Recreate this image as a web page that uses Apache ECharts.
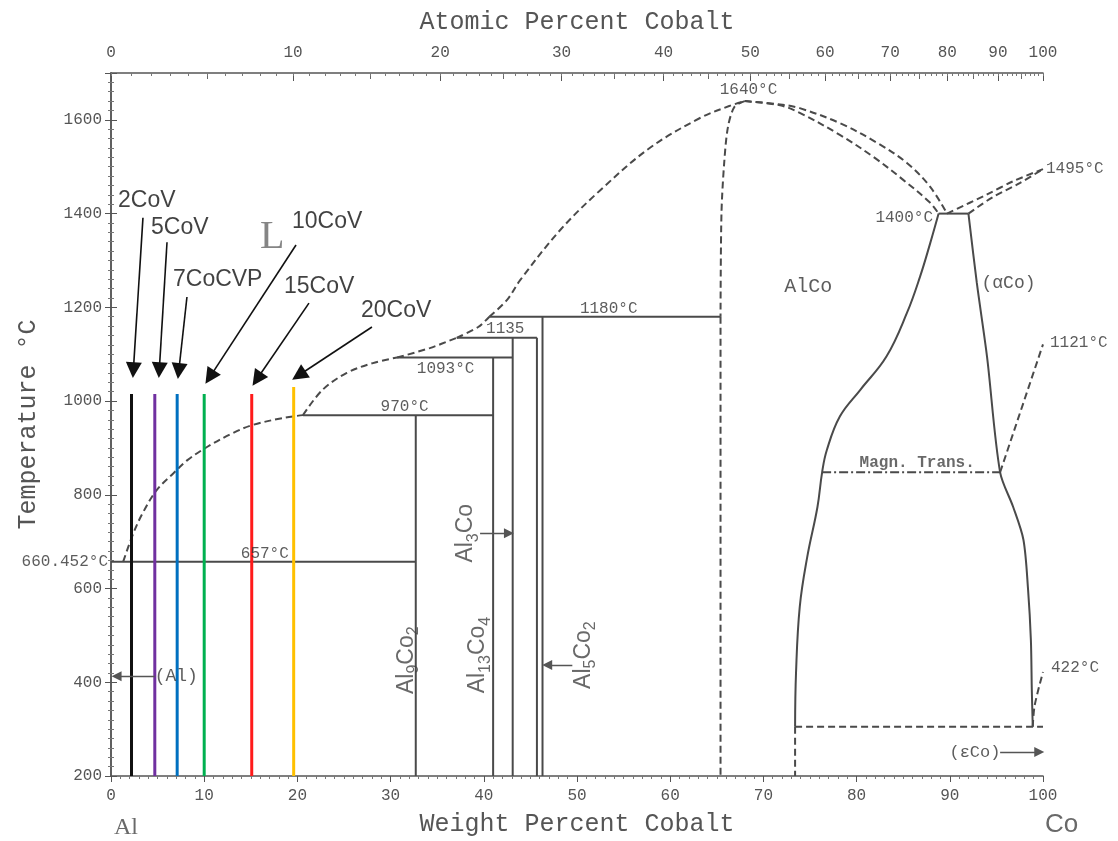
<!DOCTYPE html>
<html>
<head>
<meta charset="utf-8">
<title>Al-Co phase diagram</title>
<script src="https://cdn.jsdelivr.net/npm/echarts@6/dist/echarts.min.js"></script>
<style>
  html, body { margin: 0; padding: 0; background: #ffffff; }
  #chart { width: 1118px; height: 841px; }
</style>
</head>
<body>
<div id="chart"></div>
<script>
// ---------- axis values ----------
const tempTicks = [200, 400, 600, 800, 1000, 1200, 1400, 1600];
const atomicMajor = [0, 10, 20, 30, 40, 50, 60, 70, 80, 90, 100];
const atomicMid = [5, 15, 25, 35, 45, 55, 65, 75, 85, 95];
const atomicMinor = Array.from({ length: 101 }, (_, i) => i);

// ---------- phase boundaries: [wt% Co, °C] ----------
const liqA = [[1.3, 657], [2.4, 718], [3.4, 761], [4.9, 810], [6.7, 846], [8.2, 874], [10.3, 902], [13.1, 932], [15.2, 949], [18.5, 964], [20.6, 970]];
const liqB = [[20.6, 970], [22.7, 1024], [25.3, 1060], [28.1, 1081], [30.7, 1093]];
const liqC = [[30.7, 1093], [34.2, 1113], [37.1, 1135]];
const liqD = [[37.1, 1135], [39.4, 1158], [40.6, 1180]];
const liqE = [[40.6, 1180], [42.5, 1216], [43.9, 1258], [48.2, 1365], [52.5, 1450], [57.8, 1540], [63.2, 1604], [66.4, 1630], [68.0, 1640]];
const liqF = [[68.0, 1640], [71.8, 1633], [73.9, 1625], [78.2, 1593], [82.2, 1551], [85.4, 1508], [87.9, 1457], [89.7, 1400]];
const solAlCo = [[68.0, 1640], [71.8, 1631], [73.9, 1615], [78.2, 1568], [81.8, 1521], [85.0, 1472], [87.9, 1423], [88.8, 1400]];
const liqCo = [[89.7, 1400], [94.0, 1441], [96.8, 1469], [100, 1495]];
const solCo = [[92.0, 1400], [94.6, 1435], [97.5, 1465], [100, 1495]];
const alcoAlTop = [[68.0, 1640], [66.9, 1628], [66.2, 1585], [65.8, 1510], [65.5, 1400], [65.4, 1180]];
const alcoAlLow = [[65.4, 1180], [65.4, 200]];
const alcoCo = [[88.8, 1400], [87.9, 1337], [86.8, 1265], [85.4, 1188], [83.2, 1095], [80.4, 1024], [78.2, 967], [76.8, 895], [76.3, 848], [75.8, 774], [74.7, 667], [73.9, 561], [73.5, 420], [73.4, 305]];
const alphaCo = [[92.0, 1400], [92.9, 1252], [94.0, 1094], [95.4, 848], [96.8, 774], [97.9, 704], [98.4, 597], [98.7, 490], [98.8, 383], [98.9, 305]];
const magnTrans = [[76.3, 848], [95.4, 848]];
const curieCo = [[95.4, 848], [100, 1121]];
const lowEdge = [[73.4, 305], [100, 305]];
const lowLeft = [[73.4, 305], [73.4, 200]];
const epsCo = [[98.9, 305], [99.1, 350], [100, 422]];

const iso657 = [[0, 657], [32.7, 657]];
const iso970 = [[20.6, 970], [41.0, 970]];
const iso1093 = [[30.7, 1093], [43.1, 1093]];
const iso1135 = [[37.1, 1135], [45.7, 1135]];
const iso1180 = [[40.6, 1180], [65.4, 1180]];
const iso1400 = [[88.8, 1400], [92.0, 1400]];

const al9co2 = [[32.7, 970], [32.7, 200]];
const al13co4 = [[41.0, 1093], [41.0, 200]];
const al3co = [[43.1, 1135], [43.1, 200]];
const al5co2a = [[45.7, 1135], [45.7, 200]];
const al5co2b = [[46.3, 1180], [46.3, 200]];

// ---------- alloy compositions ----------
const sampleNames = ['2CoV', '5CoV', '7CoCVP', '10CoV', '15CoV', '20CoV'];
const sampleWt = [2.2, 4.7, 7.1, 10.0, 15.1, 19.6];
const sampleTop = [1015, 1015, 1015, 1015, 1015, 1030];
const sampleColors = ['#111111', '#7030a0', '#0070c0', '#00b050', '#ff1a1a', '#ffc000'];

// ---------- helpers ----------
const INK = '#4a4a4a';
const MONO = "'Liberation Mono','Courier New',monospace";
const SANS = "'Liberation Sans',Arial,sans-serif";
const SERIF = "'Liberation Serif','Times New Roman',serif";
const M_AL = 26.9815, M_CO = 58.9332;
const atToWt = a => a * M_CO / (a * M_CO + (100 - a) * M_AL) * 100;
const wtToAt = w => { const c = w / M_CO, a = (100 - w) / M_AL; return c / (c + a) * 100; };

const DASH = [7, 4];
const DASHDOT = [9, 3, 2, 3];

function boundary(data, dash, smooth) {
  return {
    type: 'line', data, symbol: 'none', showSymbol: false, silent: true,
    smooth: smooth || false, animation: false, z: 3,
    lineStyle: { color: INK, width: 2, type: dash || 'solid' }
  };
}

function arrows(list, color, width, size) {
  return {
    type: 'lines', coordinateSystem: 'cartesian2d', silent: true, animation: false, z: 6,
    symbol: ['none', 'triangle'], symbolSize: size,
    lineStyle: { color, width, opacity: 1, curveness: 0 },
    data: list.map(c => ({ coords: c }))
  };
}

function txt(x, y, text, opt) {
  return { value: [x, y], label: Object.assign({ show: true, formatter: text }, opt) };
}

const inside = { position: 'inside' };
const toRight = { position: 'right', distance: 0 };
const toLeft = { position: 'left', distance: 0 };
const temp = { fontFamily: MONO, fontSize: 16, color: '#333' };

// compound names: letters and lowered digits
const subRich = {
  a: { fontFamily: SANS, fontSize: 23, lineHeight: 23, padding: [0, 0, 4, 0], color: '#444' },
  s: { fontFamily: SANS, fontSize: 16, lineHeight: 16, padding: [11, 0, 0, 0], color: '#444' }
};
const vert = Object.assign({ rotate: 90, rich: subRich }, inside);

const labelItems = [
  txt(17.3, 1348, 'L', Object.assign({ fontFamily: SERIF, fontSize: 40, color: '#666' }, inside)),
  txt(74.8, 1243, 'AlCo', Object.assign({ fontFamily: MONO, fontSize: 20, color: '#333' }, inside)),
  txt(96.3, 1252, '(αCo)', Object.assign({ fontFamily: MONO, fontSize: 18, color: '#333' }, inside)),
  txt(86.5, 868, 'Magn. Trans.', Object.assign({ fontFamily: MONO, fontSize: 16, fontWeight: 'bold', color: '#444' }, inside)),
  txt(68.4, 1664, '1640°C', Object.assign({}, temp, inside)),
  txt(88.2, 1391, '1400°C', Object.assign({}, temp, toLeft)),
  txt(100, 1495, '1495°C', Object.assign({}, temp, { position: 'right', distance: 3 })),
  txt(100, 1124, '1121°C', Object.assign({}, temp, { position: 'right', distance: 7 })),
  txt(100, 432, '422°C', Object.assign({}, temp, { position: 'right', distance: 8 })),
  txt(53.4, 1198, '1180°C', Object.assign({}, temp, inside)),
  txt(42.3, 1154, '1135', Object.assign({}, temp, inside)),
  txt(35.9, 1068, '1093°C', Object.assign({}, temp, inside)),
  txt(31.5, 987, '970°C', Object.assign({}, temp, inside)),
  txt(16.5, 674, '657°C', Object.assign({}, temp, inside)),
  txt(0, 657, '660.452°C', Object.assign({}, temp, { position: 'left', distance: 3 })),
  txt(7.0, 413, '(Al)', Object.assign({ fontFamily: MONO, fontSize: 18, color: '#333' }, inside)),
  txt(92.7, 250, '(εCo)', Object.assign({ fontFamily: MONO, fontSize: 17, color: '#333' }, inside)),
  txt(31.9, 447, '{a|Al}{s|9}{a|Co}{s|2}', vert),
  txt(39.6, 458, '{a|Al}{s|13}{a|Co}{s|4}', vert),
  txt(38.3, 718, '{a|Al}{s|3}{a|Co}', vert),
  txt(50.9, 458, '{a|Al}{s|5}{a|Co}{s|2}', vert),
  txt(1.6, 89, 'Al', Object.assign({ fontFamily: SERIF, fontSize: 24, color: '#444' }, inside)),
  txt(102, 95, 'Co', Object.assign({ fontFamily: SANS, fontSize: 26, color: '#444' }, inside))
];

// alloy name positions (left edge, middle) and arrow tail/head
const sampleLabelPos = [[0.75, 1427], [4.29, 1369], [6.65, 1260], [19.42, 1382], [18.56, 1245], [26.82, 1192]];
const sampleArrows = [
  [[3.43, 1391], [2.40, 1066]],
  [[6.01, 1339], [5.18, 1066]],
  [[8.15, 1222], [7.27, 1064]],
  [[19.85, 1333], [10.6, 1051]],
  [[21.24, 1209], [15.67, 1047]],
  [[28.0, 1158], [20.15, 1055]]
];
const phaseArrows = [
  [[4.7, 413], [0.6, 413]],
  [[39.6, 718], [42.7, 718]],
  [[49.5, 437], [46.8, 437]],
  [[95.4, 251], [99.6, 251]]
];

sampleNames.forEach((n, i) => {
  labelItems.push(txt(sampleLabelPos[i][0], sampleLabelPos[i][1], n,
    Object.assign({ fontFamily: SANS, fontSize: 23, color: '#111' }, toRight)));
});

// ---------- series ----------
const series = [
  boundary(liqA, DASH, 0.35), boundary(liqB, DASH, 0.35), boundary(liqC, DASH, 0.3),
  boundary(liqD, DASH, 0.3), boundary(liqE, DASH, 0.35), boundary(liqF, DASH, 0.35),
  boundary(solAlCo, DASH, 0.35), boundary(liqCo, DASH, 0.3), boundary(solCo, DASH, 0.3),
  boundary(alcoAlTop, DASH, 0.3), boundary(alcoAlLow, DASH),
  boundary(alcoCo, 'solid', 0.4), boundary(alphaCo, 'solid', 0.3),
  boundary(magnTrans, DASHDOT), boundary(curieCo, DASH),
  boundary(lowEdge, DASH), boundary(lowLeft, DASH), boundary(epsCo, DASH, 0.3),
  boundary(iso657), boundary(iso970), boundary(iso1093), boundary(iso1135),
  boundary(iso1180), boundary(iso1400),
  boundary(al9co2), boundary(al13co4), boundary(al3co), boundary(al5co2a), boundary(al5co2b),
  arrows(phaseArrows, '#555', 1.3, [7, 10])
];

sampleWt.forEach((w, i) => {
  series.push({
    type: 'line', name: sampleNames[i], data: [[w, 200], [w, sampleTop[i]]],
    symbol: 'none', silent: true, animation: false, z: 5,
    lineStyle: { color: sampleColors[i], width: 3 }
  });
});

series.push(arrows(sampleArrows, '#111', 1.6, [13, 16]));
series.push({
  type: 'scatter', data: labelItems, symbolSize: 0, silent: true, clip: false,
  animation: false, z: 8, emphasis: { disabled: true }
});

// ---------- axes ----------
const axisLine = { show: true, lineStyle: { color: '#555', width: 1.5 } };
const tickLbl = { fontFamily: MONO, fontSize: 16, color: '#555' };
const nameStyle = { fontFamily: MONO, fontSize: 25, color: '#555' };

const option = {
  backgroundColor: '#ffffff',
  animation: false,
  grid: { left: 111, right: 75, top: 73, bottom: 65, containLabel: false, outerBoundsMode: 'none' },
  xAxis: [
    {
      type: 'value', position: 'bottom', min: 0, max: 100, interval: 10,
      name: 'Weight Percent Cobalt', nameLocation: 'middle', nameGap: 36, nameTextStyle: nameStyle,
      axisLine, splitLine: { show: false },
      axisTick: { show: true, length: 6, lineStyle: { color: '#555' } },
      minorTick: { show: true, splitNumber: 10, length: 3, lineStyle: { color: '#777' } },
      axisLabel: Object.assign({ margin: 12, formatter: v => String(v) }, tickLbl)
    },
    {
      type: 'value', position: 'top', min: 0, max: 100,
      name: 'Atomic Percent Cobalt', nameLocation: 'middle', nameGap: 38, nameTextStyle: nameStyle,
      axisLine, splitLine: { show: false },
      axisTick: { show: true, inside: true, length: 8, customValues: atomicMajor.map(atToWt), lineStyle: { color: '#555' } },
      axisLabel: Object.assign({ margin: 12, customValues: atomicMajor.map(atToWt),
        formatter: v => String(Math.round(wtToAt(v))) }, tickLbl)
    },
    {
      type: 'value', position: 'top', min: 0, max: 100,
      axisLine: { show: false }, splitLine: { show: false }, axisLabel: { show: false },
      axisTick: { show: true, inside: true, length: 6, customValues: atomicMid.map(atToWt), lineStyle: { color: '#666' } }
    },
    {
      type: 'value', position: 'top', min: 0, max: 100,
      axisLine: { show: false }, splitLine: { show: false }, axisLabel: { show: false },
      axisTick: { show: true, inside: true, length: 3, customValues: atomicMinor.map(atToWt), lineStyle: { color: '#777' } }
    }
  ],
  yAxis: [
    {
      type: 'value', position: 'left', min: 200, max: 1700, interval: 200,
      name: 'Temperature °C', nameLocation: 'middle', nameGap: 70, nameTextStyle: nameStyle,
      axisLine, splitLine: { show: false },
      axisTick: { show: true, length: 6, lineStyle: { color: '#555' } },
      minorTick: { show: true, splitNumber: 10, length: 3, lineStyle: { color: '#777' } },
      axisLabel: Object.assign({ margin: 9, customValues: tempTicks, formatter: v => String(v) }, tickLbl)
    },
    {
      type: 'value', position: 'right', min: 200, max: 1700, interval: 200,
      axisLine, splitLine: { show: false }, axisLabel: { show: false },
      axisTick: { show: true, length: 6, lineStyle: { color: '#555' } },
      minorTick: { show: true, splitNumber: 10, length: 3, lineStyle: { color: '#777' } }
    }
  ],
  series
};

const chart = echarts.init(document.getElementById('chart'), null, { renderer: 'canvas' });
chart.setOption(option);
</script>
</body>
</html>
